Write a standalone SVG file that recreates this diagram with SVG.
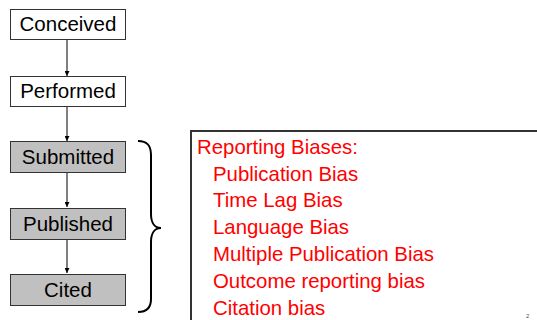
<svg xmlns="http://www.w3.org/2000/svg" width="537" height="320" viewBox="0 0 537 320">
<defs>
<style>
.box{fill:#ffffff;stroke:#333333;stroke-width:1}
.gbox{fill:#c0c0c0;stroke:#333333;stroke-width:1}
.lbl{font-family:"Liberation Sans",Arial,sans-serif;font-size:20.5px;fill:#000000;text-anchor:middle}
.red{font-family:"Liberation Sans",Arial,sans-serif;font-size:20.4px;fill:#ff0000}
.conn{stroke:#000000;stroke-width:1;fill:none;marker-end:url(#arr)}
</style>
<marker id="arr" viewBox="0 0 10 10" refX="10" refY="5" markerWidth="5" markerHeight="5" markerUnits="userSpaceOnUse" orient="auto">
<path d="M0,0 L10,5 L0,10 z" fill="#000000"/>
</marker>
</defs>
<rect width="537" height="320" fill="#ffffff"/>
<g id="connectors">
<line class="conn" x1="67" y1="40" x2="67" y2="76"/>
<line class="conn" x1="67" y1="107" x2="67" y2="141"/>
<line class="conn" x1="67" y1="173" x2="67" y2="207"/>
<line class="conn" x1="67" y1="239" x2="67" y2="273"/>
</g>
<g id="conceived">
<rect class="box" x="10.5" y="9.5" width="115" height="30"/>
<text class="lbl" x="68" y="31">Conceived</text>
</g>
<g id="performed">
<rect class="box" x="10.5" y="76.5" width="115" height="30"/>
<text class="lbl" x="68" y="98">Performed</text>
</g>
<g id="submitted">
<rect class="gbox" x="10.5" y="141.5" width="115" height="31"/>
<text class="lbl" x="68" y="164">Submitted</text>
</g>
<g id="published">
<rect class="gbox" x="10.5" y="208.5" width="115" height="31"/>
<text class="lbl" x="68" y="231">Published</text>
</g>
<g id="cited">
<rect class="gbox" x="10.5" y="274.5" width="115" height="31"/>
<text class="lbl" x="68" y="297">Cited</text>
</g>
<g id="brace">
<path d="M138,141 C147,141 151,145 151,155 L151,214 C151,223 155,228 161,228 C155,228 151,233 151,242 L151,299 C151,308 147,312 138,312" fill="none" stroke="#000000" stroke-width="2"/>
</g>
<g id="biases">
<rect x="191" y="131" width="360" height="200" fill="#ffffff" stroke="#333333" stroke-width="2"/>
<text class="red" x="197" y="154">Reporting Biases:</text>
<text class="red" x="213" y="181">Publication Bias</text>
<text class="red" x="213" y="207">Time Lag Bias</text>
<text class="red" x="213" y="234">Language Bias</text>
<text class="red" x="213" y="261">Multiple Publication Bias</text>
<text class="red" x="213" y="288">Outcome reporting bias</text>
<text class="red" x="213" y="315">Citation bias</text>
</g>
<text x="526" y="318" font-family="Liberation Sans, Arial, sans-serif" font-size="6" fill="#555555">2</text>
</svg>
